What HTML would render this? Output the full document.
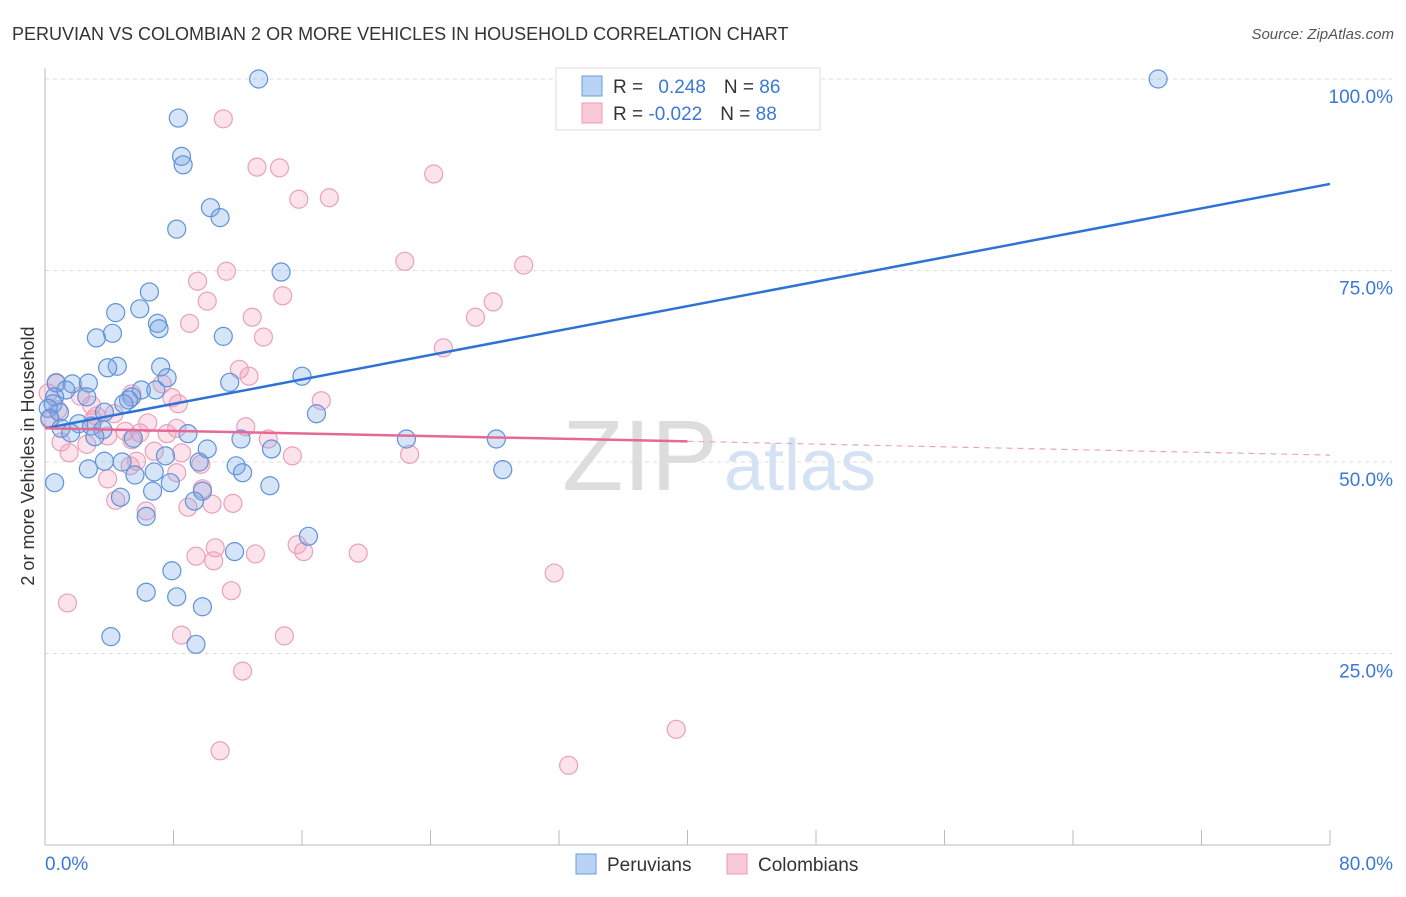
<!DOCTYPE html>
<html><head><meta charset="utf-8"><style>
body{margin:0;background:#fff;font-family:"Liberation Sans",sans-serif}
svg text{font-family:"Liberation Sans",sans-serif}
</style></head><body>
<svg id="chart" width="1406" height="892">
<text x="12" y="40" font-size="18" fill="#333">PERUVIAN VS COLOMBIAN 2 OR MORE VEHICLES IN HOUSEHOLD CORRELATION CHART</text>
<text x="1394" y="39" font-size="15" fill="#555" text-anchor="end" font-style="italic">Source: ZipAtlas.com</text>
<text x="640" y="490" font-size="100" fill="#ddd" font-family="Liberation Serif" text-anchor="middle">ZIP</text>
<text x="800" y="490" font-size="72" fill="#d5e2f3" text-anchor="middle">atlas</text>
<text transform="translate(34,456) rotate(-90)" font-size="18" fill="#333" text-anchor="middle">2 or more Vehicles in Household</text>
<g id="grid"></g><g id="pts"></g><g id="lines"></g>
<g>
<rect x="556" y="68" width="264" height="62" fill="#fff" stroke="#ddd"/>
<rect x="582" y="76" width="20" height="20" fill="#b9d3f5" stroke="#6a9ee0"/>
<rect x="582" y="103" width="20" height="20" fill="#f9c9d8" stroke="#eb9ab6"/>
<text x="613" y="93" font-size="19" fill="#333">R = <tspan fill="#3a78d8" dx="10">0.248</tspan><tspan dx="18" fill="#333">N = </tspan><tspan fill="#3a78d8">86</tspan></text>
<text x="613" y="120" font-size="19" fill="#333">R = <tspan fill="#3a78d8">-0.022</tspan><tspan dx="18" fill="#333">N = </tspan><tspan fill="#3a78d8">88</tspan></text>
</g>
<g>
<rect x="576" y="854" width="20" height="20" fill="#b9d3f5" stroke="#6a9ee0"/>
<text x="607" y="871" font-size="19" fill="#333">Peruvians</text>
<rect x="727" y="854" width="20" height="20" fill="#f9c9d8" stroke="#eb9ab6"/>
<text x="758" y="871" font-size="19" fill="#333">Colombians</text>
</g>
</svg>
<script>
const blueX=[13.3,69.3,8.3,8.5,8.6,10.3,10.9,8.2,14.7,6.5,5.9,4.4,7.0,7.1,4.2,3.2,11.1,4.5,3.9,7.2,16.0,11.5,7.6,0.7,1.7,2.7,6.0,6.9,1.3,0.6,2.6,5.4,5.2,0.5,4.9,0.2,0.9,3.7,16.9,0.3,2.1,2.9,1.0,3.6,1.6,8.9,3.1,5.5,12.2,22.5,28.1,10.1,14.1,7.5,3.7,4.8,9.6,11.9,2.7,6.8,12.3,5.6,28.5,0.6,7.8,14.0,6.7,9.8,4.7,9.3,6.3,16.4,11.8,7.9,6.3,8.2,9.8,4.1,9.4];
const blueY=[100,100,94.9,89.9,88.8,83.2,81.9,80.4,74.8,72.2,70.0,69.5,68.1,67.4,66.8,66.2,66.4,62.5,62.3,62.4,61.2,60.4,61.0,60.3,60.2,60.3,59.4,59.4,59.4,58.5,58.5,58.5,58.1,57.6,57.6,57.0,56.5,56.5,56.3,55.7,55.0,54.7,54.4,54.2,53.8,53.7,53.3,53.1,53.0,53.0,53.0,51.7,51.7,50.8,50.1,50.0,50.0,49.5,49.1,48.7,48.6,48.3,49.0,47.3,47.3,46.9,46.2,46.2,45.4,44.9,42.9,40.3,38.3,35.8,33.0,32.4,31.1,27.2,26.2];
const pinkX=[11.1,13.2,14.6,24.2,15.8,17.7,22.4,29.8,11.3,9.5,14.8,10.1,27.9,26.8,12.9,9.0,13.6,24.8,12.1,12.7,0.7,7.3,5.4,17.2,2.2,7.9,8.3,2.9,0.8,4.3,3.2,3.0,6.4,12.5,8.2,5.0,5.9,7.6,3.9,13.9,5.4,1.0,2.6,6.8,1.5,8.5,22.7,15.4,5.7,5.3,9.7,8.2,3.9,9.8,4.4,11.7,10.4,8.9,6.3,15.7,10.6,16.1,19.5,13.1,9.4,10.5,31.7,11.6,1.4,8.5,14.9,12.3,39.3,10.9,32.6,0.2,0.3];
const pinkY=[94.8,88.5,88.4,87.6,84.3,84.5,76.2,75.7,74.9,73.6,71.7,71.0,70.9,68.9,68.9,68.1,66.3,64.9,62.1,61.2,60.4,60.2,58.9,58.0,58.6,58.4,57.6,57.4,56.8,56.3,56.0,55.5,55.1,54.6,54.4,54.0,53.8,53.7,53.4,53.0,52.9,52.6,52.3,51.4,51.2,51.2,51.0,50.8,50.1,49.5,49.7,48.6,47.8,46.5,45.0,44.6,44.5,44.1,43.6,39.2,38.8,38.3,38.1,38.0,37.7,37.1,35.5,33.2,31.6,27.4,27.3,22.7,15.1,12.3,10.4,59.0,55.5];
const yTicks=[25,50,75,100];
const yTickLabels=["25.0%","50.0%","75.0%","100.0%"];
const xTicks=[0,8,16,24,32,40,48,56,64,72,80];
const blueTrend=[[0,54.4],[80,86.3]];
const pinkTrend=[[0,54.4],[40,52.7],[80,50.9]];
const NS='http://www.w3.org/2000/svg';
const sx=v=>45+v*(1285/80), sy=v=>845-v*7.66;
function mk(tag,attrs,parent){const e=document.createElementNS(NS,tag);for(const k in attrs)e.setAttribute(k,attrs[k]);parent.appendChild(e);return e;}
const g=document.getElementById('grid'),p=document.getElementById('pts'),l=document.getElementById('lines');
yTicks.forEach((t,i)=>{
 const ln=mk('line',{x1:45,x2:1392,y1:sy(t),y2:sy(t),stroke:'#ddd','stroke-dasharray':'4,4'},g);
 
 
 const tx=mk('text',{x:1393,y:sy(t)+24,'font-size':19,fill:'#3a78d8','text-anchor':'end'},g);
 tx.textContent=yTickLabels[i];
 
 
});
const ax=mk('line',{x1:45,x2:45,y1:68,y2:845,stroke:'#bbb'},g);


const bx=mk('line',{x1:45,x2:1330,y1:845,y2:845,stroke:'#bbb'},g);


xTicks.forEach(t=>{
 const tk=mk('line',{x1:sx(t),x2:sx(t),y1:830,y2:845,stroke:'#bbb'},g);
 
 
});
const x0=mk('text',{x:45,y:870,'font-size':19,fill:'#3a78d8'},g);x0.textContent='0.0%';


const x1=mk('text',{x:1393,y:870,'font-size':19,fill:'#3a78d8','text-anchor':'end'},g);x1.textContent='80.0%';


pinkX.forEach((x,i)=>{
 const c=mk('circle',{cx:sx(x),cy:sy(pinkY[i]),r:9,fill:'rgba(244,160,190,0.3)',stroke:'#eba0bb','stroke-width':1.2},p);
 
 
});
blueX.forEach((x,i)=>{
 const c=mk('circle',{cx:sx(x),cy:sy(blueY[i]),r:9,fill:'rgba(120,165,230,0.3)',stroke:'#5f92d8','stroke-width':1.2},p);
 
 
});
const bl=mk('line',{x1:sx(blueTrend[0][0]),y1:sy(blueTrend[0][1]),x2:sx(blueTrend[1][0]),y2:sy(blueTrend[1][1]),stroke:'#2f72d6','stroke-width':2.5},l);


const pl=mk('line',{x1:sx(pinkTrend[0][0]),y1:sy(pinkTrend[0][1]),x2:sx(pinkTrend[1][0]),y2:sy(pinkTrend[1][1]),stroke:'#e46a95','stroke-width':2.5},l);


const pd=mk('line',{x1:sx(pinkTrend[1][0]),y1:sy(pinkTrend[1][1]),x2:sx(pinkTrend[2][0]),y2:sy(pinkTrend[2][1]),stroke:'#eaa5bd','stroke-width':1.2,'stroke-dasharray':'6,5'},l);


</script>
</body></html>
